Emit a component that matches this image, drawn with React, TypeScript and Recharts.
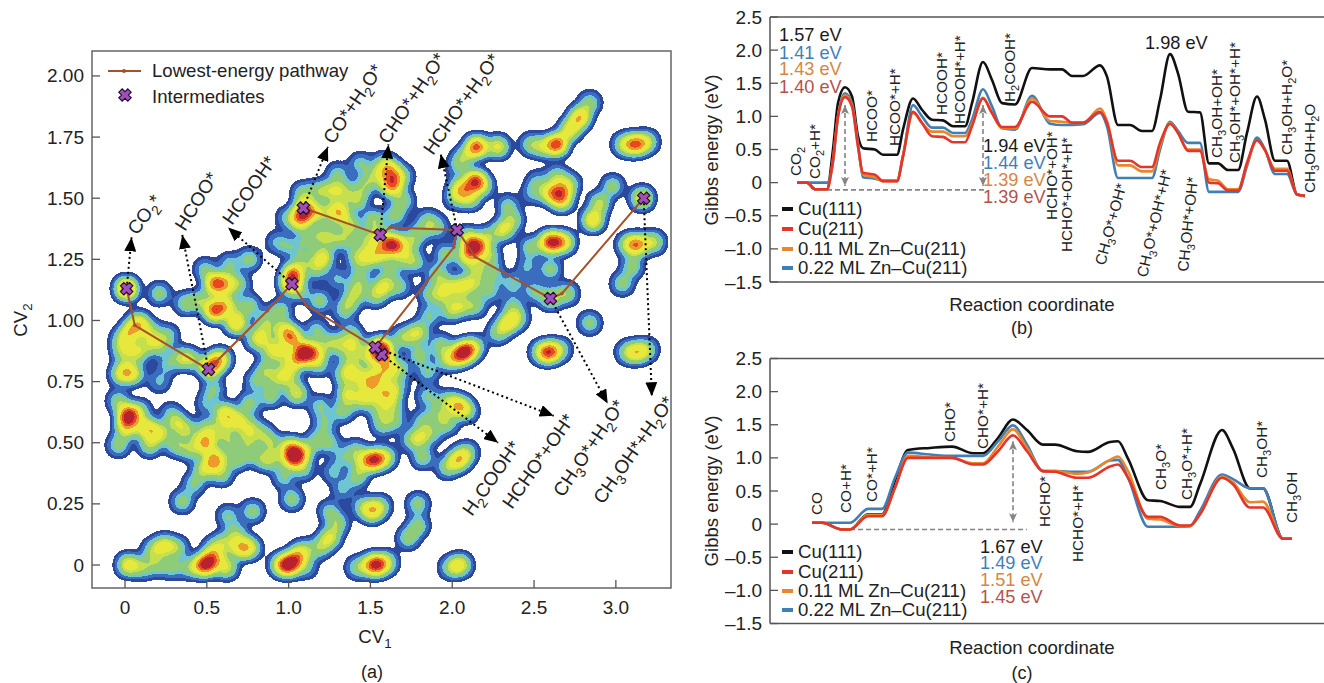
import React from "react";
import {
  LineChart,
  Line,
  ScatterChart,
  Scatter,
  XAxis,
  YAxis,
  ReferenceLine,
  ReferenceArea,
} from "recharts";

const W = 1324;
const H = 683;
const FONT = "'Liberation Sans', Arial, sans-serif";

// free energy curves, x is position along the reaction coordinate (no unit)
const coordB = [27, 37, 45, 57, 63, 68, 75, 82, 88, 93, 105, 113, 127, 133, 143, 152, 162, 173, 183, 195, 202, 213, 222, 232, 245, 262, 280, 292, 302, 313, 330, 337, 348, 360, 372, 382, 390, 400, 408, 418, 430, 439, 448, 458, 468, 477, 487, 495, 505, 517, 527, 535];
const cu111B = [0, 0, -0.1, -0.1, 0.5, 1.2, 1.44, 1.3, 0.7, 0.52, 0.5, 0.42, 0.42, 0.8, 1.27, 1.1, 0.95, 0.94, 0.85, 0.85, 1.2, 1.82, 1.55, 1.2, 1.18, 1.73, 1.71, 1.71, 1.61, 1.61, 1.77, 1.6, 0.87, 0.87, 0.78, 0.78, 1.25, 1.94, 1.65, 1.07, 1.06, 0.29, 0.29, 0.19, 0.19, 0.75, 1.3, 0.95, 0.33, 0.33, -0.18, -0.2];
const cu211B = [0, 0, -0.1, -0.1, 0.35, 1.0, 1.29, 1.15, 0.55, 0.15, 0.12, 0.02, 0.02, 0.4, 1.07, 0.9, 0.7, 0.69, 0.61, 0.61, 0.85, 1.27, 1.05, 0.84, 0.84, 1.22, 1.0, 1.0, 0.905, 0.905, 1.07, 0.9, 0.33, 0.33, 0.235, 0.235, 0.6, 0.885, 0.75, 0.48, 0.48, 0, -0.01, -0.12, -0.12, 0.3, 0.64, 0.49, 0.18, 0.18, -0.18, -0.2];
const zn011B = [0, 0, -0.1, -0.1, 0.35, 1.0, 1.32, 1.17, 0.55, 0.12, 0.08, 0.02, 0.02, 0.4, 1.05, 0.9, 0.77, 0.77, 0.7, 0.7, 0.88, 1.28, 1.05, 0.82, 0.82, 1.27, 0.93, 0.92, 0.9, 0.9, 1.12, 0.93, 0.26, 0.26, 0.17, 0.17, 0.55, 0.9, 0.75, 0.5, 0.5, 0.05, 0.03, -0.1, -0.1, 0.28, 0.64, 0.49, 0.21, 0.21, -0.18, -0.2];
const zn022B = [0, 0, 0, 0, 0.3, 1.0, 1.35, 1.2, 0.6, 0.08, 0.06, 0.03, 0.03, 0.4, 1.17, 1.0, 0.83, 0.83, 0.75, 0.75, 0.95, 1.41, 1.15, 0.82, 0.8, 1.31, 0.89, 0.87, 0.87, 0.88, 1.05, 0.85, 0.07, 0.07, 0.07, 0.07, 0.5, 0.92, 0.78, 0.6, 0.6, -0.14, -0.14, -0.14, -0.14, 0.25, 0.68, 0.5, 0.13, 0.13, -0.18, -0.2];

const coordC = [42, 52, 72, 80, 98, 112, 125, 138, 160, 182, 203, 213, 228, 243, 257, 273, 285, 307, 318, 340, 348, 358, 378, 390, 410, 420, 430, 452, 463, 480, 493, 513, 522];
const cu111C = [0.02, 0.02, -0.08, -0.08, 0.15, 0.15, 0.65, 1.12, 1.15, 1.17, 1.07, 1.07, 1.3, 1.58, 1.42, 1.2, 1.2, 1.1, 1.09, 1.24, 1.25, 0.99, 0.36, 0.35, 0.26, 0.26, 0.6, 1.42, 1.14, 0.54, 0.54, -0.22, -0.22];
const cu211C = [0.02, 0.02, -0.08, -0.08, 0.12, 0.12, 0.55, 1.0, 1.0, 1.0, 0.9, 0.9, 1.1, 1.34, 1.1, 0.8, 0.79, 0.7, 0.7, 0.87, 0.9, 0.7, 0.11, 0.11, -0.02, -0.02, 0.15, 0.7, 0.6, 0.25, 0.25, -0.22, -0.22];
const zn011C = [0.02, 0.02, -0.08, -0.08, 0.14, 0.14, 0.55, 1.03, 1.01, 1.0, 0.92, 0.92, 1.17, 1.43, 1.15, 0.8, 0.8, 0.76, 0.78, 0.97, 1.02, 0.8, 0.08, 0.07, -0.03, -0.03, 0.15, 0.72, 0.63, 0.33, 0.34, -0.22, -0.22];
const zn022C = [0.02, 0.02, 0.02, 0.02, 0.23, 0.23, 0.7, 1.08, 1.05, 1.03, 1.03, 1.03, 1.25, 1.49, 1.2, 0.8, 0.8, 0.79, 0.79, 0.96, 0.97, 0.7, -0.04, -0.04, -0.04, -0.03, 0.2, 0.75, 0.68, 0.54, 0.54, -0.22, -0.22];

const energyTicks = [2.5, 2, 1.5, 1, 0.5, 0, -0.5, -1, -1.5];
const cv1Ticks = [0, 0.5, 1, 1.5, 2, 2.5, 3];
const cv2Ticks = [0, 0.25, 0.5, 0.75, 1, 1.25, 1.5, 1.75, 2];

const surfaces = ["Cu(111)", "Cu(211)", "0.11 ML Zn\u2013Cu(211)", "0.22 ML Zn\u2013Cu(211)"];

// [CV1, CV2, strength] of the density maxima of the metadynamics map
const densityPeaks: [number, number, number][] = [
  [0.01, 1.13, 0.9], [0.21, 1.11, 0.3], [0.37, 1.07, 0.3], [0.76, 1.25, 0.3], [0.55, 1.15, 0.8], [0.62, 1.15, 0.5],
  [0.55, 1.04, 0.85], [0.49, 1.21, 0.25], [0.64, 1.23, 0.25], [0.6, 1.07, 0.3], [1.03, 1.19, 0.8], [1.01, 1.15, 0.6],
  [1.1, 1.45, 0.9], [1.07, 1.41, 0.6], [1.3, 1.45, 0.5], [1.19, 1.44, 0.4], [1.27, 1.53, 0.35], [1.3, 1.6, 0.25],
  [1.46, 1.55, 0.3], [1.42, 1.49, 0.35], [1.09, 1.52, 0.3], [0.99, 1.42, 0.2], [0.93, 1.32, 0.2], [1.01, 1.3, 0.2],
  [1.21, 1.26, 0.5], [1.25, 1.34, 0.3], [1.11, 1.33, 0.25], [1.17, 1.21, 0.3], [1.09, 1.25, 0.25], [1.42, 1.26, 0.35],
  [1.56, 1.28, 0.45], [1.58, 1.14, 0.45], [1.42, 1.13, 0.35], [1.3, 1.17, 0.2], [1.52, 1.41, 0.35], [1.63, 1.55, 0.7],
  [1.63, 1.59, 0.45], [1.62, 1.62, 0.4], [1.7, 1.49, 0.3], [1.58, 1.64, 0.3], [1.7, 1.59, 0.25], [1.64, 1.31, 0.95],
  [1.56, 1.34, 0.4], [1.5, 1.26, 0.4], [1.7, 1.26, 0.3], [1.74, 1.32, 0.3], [1.62, 1.21, 0.25], [1.68, 1.14, 0.25],
  [2.15, 1.71, 0.9], [2.28, 1.71, 0.5], [2.07, 1.67, 0.3], [2.14, 1.57, 0.9], [2.05, 1.54, 0.55], [2.11, 1.5, 0.4],
  [2.02, 1.5, 0.25], [2.19, 1.55, 0.3], [2.03, 1.63, 0.2], [2.64, 1.72, 0.9], [2.78, 1.83, 0.65], [2.72, 1.78, 0.5],
  [2.84, 1.89, 0.3], [2.48, 1.72, 0.3], [2.56, 1.71, 0.35], [3.12, 1.72, 0.75], [3.05, 1.72, 0.4], [3.19, 1.73, 0.4],
  [2.6, 1.52, 0.55], [2.67, 1.53, 0.55], [2.67, 1.49, 0.55], [2.64, 1.59, 0.3], [2.52, 1.57, 0.2], [2.49, 1.52, 0.2],
  [2.72, 1.56, 0.25], [2.86, 1.41, 0.6], [2.9, 1.48, 0.4], [2.98, 1.55, 0.3], [3.16, 1.5, 0.55], [3.13, 1.31, 0.75],
  [3.23, 1.32, 0.4], [3.07, 1.31, 0.35], [3.1, 1.22, 0.3], [3.04, 1.15, 0.3], [2.6, 1.32, 0.95], [2.68, 1.32, 0.6],
  [2.48, 1.3, 0.3], [2.6, 1.21, 0.3], [2.46, 1.22, 0.2], [2.31, 1.37, 0.45], [2.37, 1.41, 0.3], [2.34, 1.47, 0.25],
  [2.21, 1.34, 0.3], [2.13, 1.3, 0.9], [2.09, 1.26, 0.45], [2.17, 1.3, 0.35], [2.09, 1.34, 0.35], [2.05, 1.14, 0.45],
  [1.94, 1.1, 0.3], [2.13, 1.15, 0.35], [2.05, 1.06, 0.35], [1.86, 1.11, 0.25], [1.91, 1.19, 0.3], [2.15, 1.21, 0.3],
  [1.91, 1.38, 0.25], [1.85, 1.41, 0.25], [2.6, 1.09, 0.4], [2.7, 1.11, 0.35], [2.5, 1.12, 0.25], [2.37, 1.15, 0.25],
  [2.25, 1.19, 0.25], [2.37, 1.06, 0.25], [2.84, 0.99, 0.3], [0.68, 0.99, 0.65], [0.03, 0.95, 0.5], [0.08, 0.99, 0.55],
  [0.08, 0.87, 0.4], [0.01, 0.79, 0.5], [-0.01, 0.87, 0.35], [0.26, 0.94, 0.25], [0.15, 0.91, 0.25], [0.34, 0.85, 0.3],
  [0.4, 0.84, 0.35], [0.52, 0.81, 0.75], [0.58, 0.84, 0.6], [0.26, 0.82, 0.2], [0.21, 0.75, 0.2], [0.54, 0.72, 0.25],
  [0.5, 0.66, 0.2], [0.61, 0.62, 0.55], [0.68, 0.59, 0.45], [0.02, 0.61, 1], [0.01, 0.56, 0.5], [0.13, 0.56, 0.55],
  [0.21, 0.54, 0.45], [0.32, 0.58, 0.35], [0.38, 0.55, 0.3], [0.28, 0.62, 0.2], [0.49, 0.5, 0.7], [0.55, 0.43, 0.75],
  [0.48, 0.39, 0.4], [0.4, 0.47, 0.3], [0.64, 0.5, 0.3], [0.75, 0.52, 0.3], [0.68, 0.43, 0.3], [0.76, 0.46, 0.25],
  [0.5, 0.56, 0.3], [0.42, 0.33, 0.25], [0.35, 0.26, 0.3], [0.8, 0.75, 0.25], [0.76, 0.66, 0.3], [0.89, 0.69, 0.3],
  [1.05, 0.7, 0.45], [1.19, 0.65, 0.25], [1.22, 0.58, 0.25], [1.01, 0.76, 0.25], [0.93, 0.76, 0.3], [1.02, 0.93, 0.7],
  [1.1, 0.87, 1], [1.05, 0.84, 0.5], [1.17, 0.87, 0.45], [0.97, 0.96, 0.45], [0.84, 0.94, 0.35], [1.25, 0.91, 0.25],
  [0.95, 0.87, 0.35], [0.99, 0.8, 0.3], [1.38, 0.95, 0.25], [1.17, 0.96, 0.25], [1.03, 0.44, 1], [1.01, 0.48, 0.6],
  [1.09, 0.46, 0.45], [0.9, 0.43, 0.3], [0.84, 0.43, 0.25], [1.09, 0.39, 0.25], [0.97, 0.36, 0.25], [1.02, 0.27, 0.3],
  [0.89, 0.5, 0.3], [0.84, 0.54, 0.25], [1.17, 0.51, 0.25], [1.25, 0.5, 0.25], [1.33, 0.44, 0.2], [1.27, 0.38, 0.2],
  [1.33, 0.31, 0.2], [1.42, 0.36, 0.3], [1.52, 0.43, 0.9], [1.59, 0.44, 0.45], [1.45, 0.42, 0.35], [1.51, 0.22, 0.55],
  [1.45, 0.24, 0.25], [1.56, 0.24, 0.3], [1.25, 0.22, 0.25], [1.25, 0.11, 0.45], [1.3, 0.17, 0.3], [1.19, 0.07, 0.3],
  [0.02, 0, 0.55], [0.11, -0.01, 0.3], [0.24, 0.08, 0.45], [0.17, 0.06, 0.3], [0.32, 0.07, 0.3], [0.2, 0, 0.25],
  [0.29, -0.01, 0.25], [0.4, -0.01, 0.3], [0.49, 0, 1], [0.54, 0.03, 0.55], [0.62, -0.01, 0.45], [0.7, 0.07, 0.5],
  [0.76, 0.07, 0.5], [0.68, 0.13, 0.3], [0.63, 0.2, 0.25], [0.78, 0.22, 0.3], [0.6, 0.09, 0.3], [0.54, 0.07, 0.25],
  [1.0, 0, 1], [1.05, 0.03, 0.55], [0.95, 0, 0.45], [1.09, 0.06, 0.3], [1.11, -0.01, 0.2], [1.52, 0, 0.9],
  [1.42, -0.01, 0.3], [1.6, 0.01, 0.35], [1.56, 0, 0.4], [2.05, 0, 0.5], [1.99, -0.01, 0.3], [1.79, 0.25, 0.3],
  [1.79, 0.16, 0.3], [1.73, 0.11, 0.3], [1.82, 0.44, 0.3], [2.04, 0.43, 0.6], [1.97, 0.4, 0.3], [2.09, 0.46, 0.3],
  [2.07, 0.87, 1], [2.13, 0.89, 0.45], [2.03, 0.85, 0.4], [1.97, 0.84, 0.35], [1.85, 0.79, 0.25], [1.79, 0.95, 0.45],
  [1.7, 0.93, 0.35], [1.56, 0.89, 0.85], [1.58, 0.87, 0.8], [1.5, 0.85, 0.4], [2.34, 0.99, 0.5], [2.28, 0.95, 0.3],
  [2.4, 1.01, 0.3], [2.59, 0.87, 0.85], [2.54, 0.87, 0.3], [2.66, 0.88, 0.3], [3.13, 0.87, 0.5], [3.07, 0.87, 0.3],
  [3.19, 0.88, 0.3], [2.04, 0.65, 0.6], [1.97, 0.67, 0.3], [2.09, 0.63, 0.3], [1.85, 0.69, 0.25], [1.82, 0.59, 0.25],
  [1.8, 0.52, 0.4], [1.88, 0.54, 0.25], [1.97, 0.58, 0.3], [1.74, 0.51, 0.2], [1.91, 0.62, 0.25], [1.58, 0.7, 0.4],
  [1.56, 0.63, 0.3], [1.64, 0.65, 0.25], [1.5, 0.76, 0.35], [1.56, 0.77, 0.4], [1.6, 0.81, 0.45], [1.5, 0.69, 0.3],
  [1.66, 0.73, 0.25], [1.36, 0.7, 0.45], [1.33, 0.63, 0.3], [1.48, 0.74, 0.35],
  [-0.02, 0.92, 0.3], [-0.03, 0.78, 0.3], [0.21, 0.9, 0.3], [0.15, 0.96, 0.3], [0.06, 0.78, 0.3], [-0.04, 0.67, 0.3],
  [0.09, 0.63, 0.3], [-0.04, 0.49, 0.3], [0.15, 0.49, 0.35], [0.31, 0.49, 0.3], [0.59, 0.55, 0.3], [0.76, 0.57, 0.3],
  [0.59, 0.37, 0.3], [0.7, 1.15, 0.25], [0.46, 1.08, 0.3], [0.64, 1.06, 0.3], [0.76, 1.06, 0.3], [0.86, 1.0, 0.3],
  [0.95, 1.04, 0.3], [0.8, 0.92, 0.3], [0.89, 0.88, 0.35], [0.86, 0.8, 0.3], [1.18, 0.82, 0.3], [1.38, 0.84, 0.3],
  [1.34, 0.78, 0.35], [1.44, 0.67, 0.3], [1.41, 0.78, 0.35], [1.68, 0.8, 0.3], [1.62, 0.7, 0.3], [1.57, 0.57, 0.25],
  [1.65, 0.59, 0.25], [1.32, 0.9, 0.3], [1.41, 0.9, 0.35], [1.41, 0.47, 0.25], [1.93, 0.9, 0.3], [1.8, 0.86, 0.3],
  [1.99, 1.04, 0.3], [2.14, 1.06, 0.3], [1.86, 1.02, 0.25], [2.23, 1.12, 0.25], [1.96, 1.14, 0.3], [2.23, 1.26, 0.3],
  [1.96, 1.27, 0.3], [1.19, 1.53, 0.3], [1.34, 1.53, 0.3], [1.53, 1.59, 0.3], [1.44, 1.64, 0.25], [1.19, 1.35, 0.25],
  [1.38, 1.39, 0.35], [1.31, 1.43, 0.35], [1.47, 1.33, 0.3], [1.8, 1.36, 0.25], [1.65, 1.43, 0.3], [1.34, 1.33, 0.3],
  [1.77, 1.24, 0.3], [1.44, 1.19, 0.25], [1.53, 1.1, 0.3], [1.07, 1.12, 0.25], [1.19, 1.08, 0.3], [1.38, 1.08, 0.3],
  [1.34, 1.04, 0.25],
];

const intermediates = [
  { cv1: 0.01, cv2: 1.13 }, { cv1: 0.51, cv2: 0.8 }, { cv1: 1.02, cv2: 1.15 }, { cv1: 1.57, cv2: 0.86 }, { cv1: 1.53, cv2: 0.89 },
  { cv1: 1.09, cv2: 1.46 }, { cv1: 1.56, cv2: 1.35 }, { cv1: 2.03, cv2: 1.37 }, { cv1: 2.6, cv2: 1.09 }, { cv1: 3.17, cv2: 1.5 },
];
const pathwayFormate = [
  { cv1: 0.01, cv2: 1.13 }, { cv1: 0.06, cv2: 0.98 }, { cv1: 0.51, cv2: 0.8 }, { cv1: 0.87, cv2: 1.04 }, { cv1: 1.02, cv2: 1.15 },
  { cv1: 1.11, cv2: 1.06 }, { cv1: 1.53, cv2: 0.89 }, { cv1: 2.01, cv2: 1.3 }, { cv1: 2.03, cv2: 1.37 },
];
const pathwayCO = [
  { cv1: 1.09, cv2: 1.46 }, { cv1: 1.56, cv2: 1.35 }, { cv1: 1.62, cv2: 1.38 }, { cv1: 2.03, cv2: 1.37 }, { cv1: 2.14, cv2: 1.26 },
  { cv1: 2.6, cv2: 1.09 }, { cv1: 2.67, cv2: 1.11 }, { cv1: 3.17, cv2: 1.5 },
];
// dotted arrows: from an intermediate out towards its label
const arrowsA = [
  [0.01, 1.13, 0.04, 1.34], [0.51, 0.8, 0.35, 1.35], [1.02, 1.15, 0.63, 1.38], [1.09, 1.46, 1.24, 1.71], [1.56, 1.35, 1.61, 1.72],
  [2.03, 1.37, 1.93, 1.68], [2.6, 1.09, 2.95, 0.66], [3.17, 1.5, 3.22, 0.69], [1.53, 0.89, 2.62, 0.61], [1.57, 0.86, 2.28, 0.5],
];

// [text, left end x, left end y, rotation]; _n is a subscript
const labelsA: [string, number, number, number][] = [
  ["CO_2*", 137, 236, -54], ["HCOO*", 185, 232, -58], ["HCOOH*", 232, 226, -55], ["CO*+H_2O*", 333, 145, -56],
  ["CHO*+H_2O*", 388, 145, -56], ["HCHO*+H_2O*", 433, 156, -55], ["H_2COOH*", 472, 517, -55], ["HCHO*+OH*", 512, 510, -55],
  ["CH_3O*+H_2O*", 563, 498, -56], ["CH_3OH*+H_2O*", 603, 505, -55],
];
const labelsB: [string, number, number, number][] = [
  ["CO_2", 801, 176, -90], ["CO_2+H*", 820, 179, -90], ["HCOO*", 877, 142, -90], ["HCOO*+H*", 900, 146, -90], ["HCOOH*", 947, 115, -90],
  ["HCOOH*+H*", 965, 124, -90], ["H_2COOH*", 1015, 102, -90], ["HCHO*+OH*", 1057, 220, -90], ["HCHO*+OH*+H*", 1072, 252, -90],
  ["CH_3O*+OH*", 1105, 266, -75], ["CH_3O*+OH*+H*", 1147, 278, -77], ["CH_3OH*+OH*", 1188, 272, -84], ["CH_3OH+OH*", 1222, 158, -90],
  ["CH_3OH*+OH*+H*", 1240, 163, -90], ["CH_3OH+H_2O*", 1292, 155, -90], ["CH_3OH+H_2O", 1315, 193, -90],
];
const labelsC: [string, number, number, number][] = [
  ["CO", 822, 515, -90], ["CO+H*", 851, 513, -90], ["CO*+H*", 877, 502, -90], ["CHO*", 955, 442, -90], ["CHO*+H*", 988, 449, -90],
  ["HCHO*", 1050, 527, -90], ["HCHO*+H*", 1083, 562, -90], ["CH_3O*", 1166, 490, -90], ["CH_3O*+H*", 1192, 500, -90],
  ["CH_3OH*", 1267, 478, -90], ["CH_3OH", 1297, 523, -90],
];

const LINE_COLORS = ["#111111", "#e5352b", "#e8872b", "#3f7fb5"];
const VALUE_COLORS = ["#1a1a1a", "#3f7fb8", "#d8863f", "#b5524c"];

// density contour bands: lower limit of blurred alpha, then colour
const densityBands: [number, string][] = [
  [0, "#ffffff"], [0.02, "#2b4a9e"], [0.045, "#3c6ebf"], [0.08, "#6ec6d2"], [0.11, "#8fcc7b"], [0.165, "#c5e04f"],
  [0.21, "#e6e83c"], [0.31, "#ee9b2b"], [0.38, "#e8481f"], [0.44, "#b8232f"],
];

function bandTable(offset: number): string {
  const out: string[] = [];
  for (let i = 0; i < 255; i++) {
    const v = i / 255;
    let col = densityBands[0][1];
    for (const [t, c] of densityBands) if (v >= t) col = c;
    out.push((parseInt(col.slice(offset, offset + 2), 16) / 255).toFixed(3));
  }
  return out.join(" ");
}

function SvgDefs() {
  return (
    <svg width={0} height={0} style={{ position: "absolute" }}>
      <defs>
        <filter id="densityMap" x="0" y="0" width="1" height="1" colorInterpolationFilters="sRGB">
          <feGaussianBlur in="SourceGraphic" stdDeviation={6.5} result="b" />
          <feColorMatrix in="b" type="matrix" values="0 0 0 1 0  0 0 0 1 0  0 0 0 1 0  0 0 0 0 1" />
          <feComponentTransfer>
            <feFuncR type="discrete" tableValues={bandTable(1)} />
            <feFuncG type="discrete" tableValues={bandTable(3)} />
            <feFuncB type="discrete" tableValues={bandTable(5)} />
          </feComponentTransfer>
          <feGaussianBlur stdDeviation={0.7} />
        </filter>
        <marker id="arrowBlack" viewBox="0 0 14 12" refX={14} refY={6} markerWidth={14} markerHeight={12} markerUnits="userSpaceOnUse" orient="auto">
          <path d="M0 0L14 6L0 12Z" fill="#000" />
        </marker>
        <marker id="arrowGrey" viewBox="0 0 9 8" refX={9} refY={4} markerWidth={9} markerHeight={8} markerUnits="userSpaceOnUse" orient="auto-start-reverse">
          <path d="M0 0L9 4L0 8L2 4Z" fill="#858585" />
        </marker>
      </defs>
    </svg>
  );
}

function RichText({ text, x, y, angle = 0, size = 14, fill = "#222", anchor = "start" }: any) {
  const parts = text.split(/(_\d)/).filter(Boolean);
  let lowered = false;
  return (
    <text x={x} y={y} fontSize={size} fontFamily={FONT} fill={fill} textAnchor={anchor} transform={angle ? `rotate(${angle} ${x} ${y})` : undefined}>
      {parts.map((p: string, i: number) => {
        if (p[0] === "_") {
          lowered = true;
          return <tspan key={i} dy={size * 0.28} fontSize={size * 0.72}>{p[1]}</tspan>;
        }
        const dy = lowered ? -size * 0.28 : 0;
        lowered = false;
        return <tspan key={i} dy={dy}>{p}</tspan>;
      })}
    </text>
  );
}

function LeftTick({ x, y, payload, format }: any) {
  return (
    <g>
      <line x1={x} x2={x + 8} y1={y} y2={y} stroke="#555" strokeWidth={1.3} />
      <text x={x - 8} y={y + 6.5} textAnchor="end" fontSize={19} fontFamily={FONT} fill="#222">{format(payload.value)}</text>
    </g>
  );
}

function BottomTick({ x, y, payload }: any) {
  return (
    <g>
      <line x1={x} x2={x} y1={y} y2={y - 8} stroke="#555" strokeWidth={1.3} />
      <text x={x} y={y + 26} textAnchor="middle" fontSize={19} fontFamily={FONT} fill="#222">{payload.value === 0 ? "0" : payload.value.toFixed(1)}</text>
    </g>
  );
}

function fmtEnergy(v: number) {
  if (v === 0) return "0";
  return (v < 0 ? "\u2013" : "") + Math.abs(v).toFixed(1);
}

function Cross({ cx, cy }: any) {
  return (
    <path
      transform={`translate(${cx} ${cy}) rotate(45)`}
      d="M-2.4 -6.4H2.4V-2.4H6.4V2.4H2.4V6.4H-2.4V2.4H-6.4V-2.4H-2.4Z"
      fill="#a44db8"
      stroke="#15102a"
      strokeWidth={1.1}
    />
  );
}

function PathDot({ cx, cy }: any) {
  return <circle cx={cx} cy={cy} r={1.8} fill="#a5522a" />;
}

function DensityBlob({ cx, cy, payload }: any) {
  return <circle cx={cx} cy={cy} r={7} fill="#fff" fillOpacity={payload.peak} />;
}

function DensityLayer() {
  const data = densityPeaks.map(([cv1, cv2, peak]) => ({ cv1, cv2, peak }));
  return (
    <div style={{ position: "absolute", left: 0, top: 0, width: W, height: H, filter: "url(#densityMap)" }}>
      <ScatterChart width={W} height={H} margin={{ left: 92, right: 653, top: 51, bottom: 95 }}>
        <XAxis type="number" dataKey="cv1" domain={[-0.2017, 3.337]} hide />
        <YAxis type="number" dataKey="cv2" domain={[-0.094, 2.102]} hide />
        <Scatter data={data} shape={DensityBlob} isAnimationActive={false} />
      </ScatterChart>
    </div>
  );
}

function PanelA() {
  const pathLine = { stroke: "#a5522a", strokeWidth: 2 };
  return (
    <div style={{ position: "absolute", left: 0, top: 0 }}>
      <ScatterChart width={W} height={H} margin={{ left: 91, right: 653, top: 51, bottom: 94 }}>
        <XAxis type="number" dataKey="cv1" domain={[-0.2017, 3.337]} ticks={cv1Ticks} tick={<BottomTick />} height={1} tickSize={0} tickMargin={0} axisLine={false} tickLine={false} allowDataOverflow />
        <YAxis
          type="number"
          dataKey="cv2"
          domain={[-0.094, 2.102]}
          ticks={cv2Ticks}
          tick={<LeftTick format={(v: number) => (v === 0 ? "0" : v.toFixed(2))} />}
          width={1}
          tickSize={0}
          tickMargin={0}
          axisLine={false}
          tickLine={false}
          allowDataOverflow
        />
        <ReferenceArea x1={-0.2017} x2={3.337} y1={-0.094} y2={2.102} fill="none" stroke="#666" strokeWidth={1.5} />
        {arrowsA.map((a, i) => (
          <ReferenceLine key={i} segment={[{ x: a[0], y: a[1] }, { x: a[2], y: a[3] }]} stroke="#000" strokeWidth={2} strokeDasharray="2 3" markerEnd="url(#arrowBlack)" />
        ))}
        <Scatter data={pathwayFormate} line={pathLine} shape={PathDot} isAnimationActive={false} />
        <Scatter data={pathwayCO} line={pathLine} shape={PathDot} isAnimationActive={false} />
        <Scatter data={intermediates} shape={Cross} isAnimationActive={false} />
        {labelsA.map(([t, x, y, a]) => (
          <RichText key={t} text={t} x={x} y={y} angle={a} size={19} />
        ))}
        <line x1={108} x2={141} y1={71} y2={71} stroke="#a5522a" strokeWidth={2} />
        <circle cx={124} cy={71} r={2} fill="#a5522a" />
        <Cross cx={125} cy={95} />
        <RichText text="Lowest-energy pathway" x={152} y={77} size={18.6} />
        <RichText text="Intermediates" x={152} y={103} size={18.6} />
        <g transform="translate(27 320) rotate(-90)">
          <RichText text="CV_2" x={0} y={0} size={18.6} anchor="middle" />
        </g>
        <RichText text="CV_1" x={375} y={643} size={18.6} anchor="middle" />
        <RichText text="(a)" x={372} y={678} size={18} anchor="middle" />
      </ScatterChart>
    </div>
  );
}

function EnergyPanel({ coord, series, top, labels, values, legendY, legendRows, axisY, captionY, caption, arrows }: any) {
  const data = coord.map((x: number, i: number) => ({
    x,
    cu111: series[0][i],
    cu211: series[1][i],
    zn011: series[2][i],
    zn022: series[3][i],
  }));
  return (
    <div style={{ position: "absolute", left: 0, top: 0 }}>
      <LineChart width={W} height={H} data={data} margin={{ left: 769, right: 0, top, bottom: H - top - 265 }}>
        <XAxis type="number" dataKey="x" domain={[0, 554]} hide />
        <YAxis
          type="number"
          domain={[-1.5, 2.5]}
          ticks={energyTicks}
          interval={0}
          tick={<LeftTick format={fmtEnergy} />}
          width={1}
          tickSize={0}
          tickMargin={0}
          axisLine={{ stroke: "#555", strokeWidth: 1.5 }}
          tickLine={false}
          allowDataOverflow
        />
        <ReferenceLine y={2.5} stroke="#555" strokeWidth={1.5} />
        <ReferenceLine y={-1.5} stroke="#555" strokeWidth={1.5} />
        {arrows.map((a: number[], i: number) => (
          <ReferenceLine key={i} segment={[{ x: a[0], y: a[1] }, { x: a[2], y: a[3] }]} stroke="#858585" strokeWidth={1.6} strokeDasharray="5 3" markerStart={a[4] ? "url(#arrowGrey)" : undefined} markerEnd={a[4] ? "url(#arrowGrey)" : undefined} />
        ))}
        <Line dataKey="cu111" name={surfaces[0]} stroke={LINE_COLORS[0]} strokeWidth={2.6} dot={false} type="monotone" isAnimationActive={false} />
        <Line dataKey="zn022" name={surfaces[3]} stroke={LINE_COLORS[3]} strokeWidth={2.6} dot={false} type="monotone" isAnimationActive={false} />
        <Line dataKey="zn011" name={surfaces[2]} stroke={LINE_COLORS[2]} strokeWidth={2.6} dot={false} type="monotone" isAnimationActive={false} />
        <Line dataKey="cu211" name={surfaces[1]} stroke={LINE_COLORS[1]} strokeWidth={2.6} dot={false} type="monotone" isAnimationActive={false} />
        {labels.map(([t, x, y, a]: any) => (
          <RichText key={t} text={t} x={x} y={y} angle={a} size={15.3} />
        ))}
        {values.map(([t, x, y, c]: any) => (
          <RichText key={t + x + y} text={t} x={x} y={y} size={18.2} fill={VALUE_COLORS[c]} />
        ))}
        {surfaces.map((s, i) => (
          <g key={s}>
            <rect x={782} y={legendRows[i] - 2} width={11} height={4} fill={LINE_COLORS[i]} />
            <RichText text={s} x={798} y={legendRows[i] + 6} size={18.6} />
          </g>
        ))}
        <g transform={`translate(718 ${axisY}) rotate(-90)`}>
          <RichText text="Gibbs energy (eV)" x={0} y={0} size={18.6} anchor="middle" />
        </g>
        <RichText text="Reaction coordinate" x={1032} y={legendY} size={18.6} anchor="middle" />
        <RichText text={caption} x={1022} y={captionY} size={18} anchor="middle" />
      </LineChart>
    </div>
  );
}

export default function App() {
  return (
    <div style={{ position: "absolute", left: 0, top: 0, width: W, height: H, overflow: "hidden", background: "#fff" }}>
      <SvgDefs />
      <DensityLayer />
      <PanelA />
      <EnergyPanel
        coord={coordB}
        series={[cu111B, cu211B, zn011B, zn022B]}
        top={17}
        labels={labelsB}
        values={[
          ["1.57 eV", 779, 41, 0], ["1.41 eV", 779, 59, 1], ["1.43 eV", 779, 75, 2], ["1.40 eV", 779, 93, 3],
          ["1.94 eV", 983, 152, 0], ["1.44 eV", 983, 169, 1], ["1.39 eV", 983, 186, 2], ["1.39 eV", 983, 203, 3],
          ["1.98 eV", 1145, 49, 0],
        ]}
        arrows={[
          [75, 1.17, 75, -0.05, 1], [213, 1.17, 213, -0.05, 1], [57, -0.11, 215, -0.11, 0],
        ]}
        legendRows={[209, 229, 249, 268]}
        legendY={311}
        axisY={150}
        captionY={334}
        caption="(b)"
      />
      <EnergyPanel
        coord={coordC}
        series={[cu111C, cu211C, zn011C, zn022C]}
        top={358.5}
        labels={labelsC}
        values={[
          ["1.67 eV", 980, 553, 0], ["1.49 eV", 980, 569, 1], ["1.51 eV", 980, 586, 2], ["1.45 eV", 980, 603, 3],
        ]}
        arrows={[
          [243, 1.25, 243, 0.03, 1], [80, -0.08, 257, -0.08, 0],
        ]}
        legendRows={[552, 572, 591, 610]}
        legendY={654}
        axisY={491}
        captionY={679}
        caption="(c)"
      />
    </div>
  );
}
